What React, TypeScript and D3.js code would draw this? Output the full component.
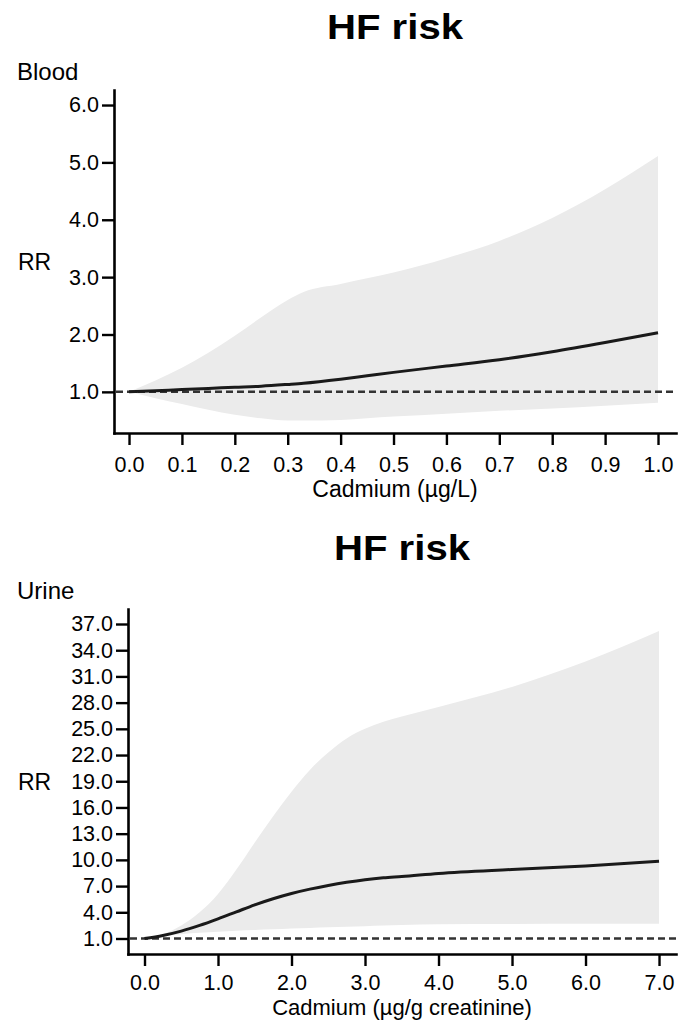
import * as d3 from 'd3';
import React, { useEffect, useRef } from 'react';

// Blood cadmium (µg/L) vs RR
const bloodX = [0, 0.05, 0.1, 0.15, 0.2, 0.25, 0.3, 0.33, 0.4, 0.45, 0.5, 0.6, 0.7, 0.8, 0.9, 1.0];
const bloodFit = [1.0, 1.02, 1.04, 1.06, 1.08, 1.1, 1.13, 1.15, 1.22, 1.28, 1.34, 1.45, 1.56, 1.7, 1.86, 2.03];
const bloodLow = [1.0, 0.89, 0.79, 0.69, 0.6, 0.54, 0.5, 0.5, 0.51, 0.54, 0.57, 0.62, 0.67, 0.71, 0.76, 0.81];
const bloodHigh = [1.0, 1.2, 1.42, 1.68, 1.98, 2.3, 2.6, 2.74, 2.88, 2.98, 3.08, 3.33, 3.63, 4.03, 4.53, 5.11];
const bloodTicksX = [0, 0.1, 0.2, 0.3, 0.4, 0.5, 0.6, 0.7, 0.8, 0.9, 1.0];
const bloodTicksY = [1, 2, 3, 4, 5, 6];

// Urine cadmium (µg/g creatinine) vs RR
const urineX = [0, 0.25, 0.5, 0.75, 1, 1.25, 1.5, 1.75, 2, 2.25, 2.5, 2.75, 3, 3.25, 3.5, 4, 5, 6, 7];
const urineFit = [1.0, 1.35, 1.85, 2.5, 3.25, 4.05, 4.85, 5.55, 6.15, 6.65, 7.07, 7.43, 7.73, 7.95, 8.1, 8.45, 8.9, 9.3, 9.85];
const urineLow = [1.0, 1.3, 1.5, 1.65, 1.76, 1.88, 1.97, 2.05, 2.14, 2.21, 2.28, 2.34, 2.4, 2.48, 2.55, 2.62, 2.66, 2.68, 2.7];
const urineHigh = [1.0, 1.5, 2.5, 4.0, 6.1, 8.9, 12.0, 15.0, 17.8, 20.3, 22.3, 23.9, 25.0, 25.8, 26.4, 27.5, 29.8, 32.7, 36.2];
const urineTicksX = [0, 1, 2, 3, 4, 5, 6, 7];
const urineTicksY = [1, 4, 7, 10, 13, 16, 19, 22, 25, 28, 31, 34, 37];

const FONT = '"Liberation Sans", Arial, sans-serif';

const panels = [
  {
    title: 'HF risk', label: 'Blood', xTitle: 'Cadmium (µg/L)',
    xs: bloodX, fit: bloodFit, low: bloodLow, high: bloodHigh,
    ticksX: bloodTicksX, ticksY: bloodTicksY,
    xDomain: [-0.0284, 1.034], yDomain: [0.283, 6.262],
    left: 114, right: 676, top: 90, bottom: 433, titleY: 39,
    xPad: 12, xTitleGap: 64, xTitleSize: 23,
  },
  {
    title: 'HF risk', label: 'Urine', xTitle: 'Cadmium (µg/g creatinine)',
    xs: urineX, fit: urineFit, low: urineLow, high: urineHigh,
    ticksX: urineTicksX, ticksY: urineTicksY,
    xDomain: [-0.2245, 7.231], yDomain: [-0.774, 38.717],
    left: 128, right: 676, top: 609, bottom: 954, titleY: 560,
    xPad: 9, xTitleGap: 61, xTitleSize: 22,
  },
];

const App = () => {
  const ref = useRef(null);

  useEffect(() => {
    const svg = d3.select(ref.current);
    svg.selectAll('*').remove();

    panels.forEach(p => {
      const x = d3.scaleLinear().domain(p.xDomain).range([p.left, p.right]);
      const y = d3.scaleLinear().domain(p.yDomain).range([p.bottom, p.top]);
      const g = svg.append('g');
      const pts = p.xs.map((v, i) => ({ x: v, fit: p.fit[i], lo: p.low[i], hi: p.high[i] }));

      // confidence band
      g.append('path')
        .attr('fill', '#ebebeb')
        .attr('d', d3.area<any>()
          .x(d => x(d.x))
          .y0(d => y(d.lo))
          .y1(d => y(d.hi))
          .curve(d3.curveMonotoneX)(pts));

      // reference line RR = 1
      g.append('line')
        .attr('x1', x(p.xDomain[0]) + 2).attr('x2', x(p.xDomain[1]))
        .attr('y1', y(1)).attr('y2', y(1))
        .attr('stroke', '#333').attr('stroke-width', 2.5)
        .attr('stroke-dasharray', '7,4');

      // fitted curve
      g.append('path')
        .attr('fill', 'none')
        .attr('stroke', '#1a1a1a')
        .attr('stroke-width', 3)
        .attr('d', d3.line<any>()
          .x(d => x(d.x))
          .y(d => y(d.fit))
          .curve(d3.curveMonotoneX)(pts));

      const yAxis = g.append('g')
        .attr('transform', `translate(${p.left},0)`)
        .call(d3.axisLeft(y).tickValues(p.ticksY).tickFormat(d3.format('.1f')).tickSize(12).tickSizeOuter(0).tickPadding(3));
      const xAxis = g.append('g')
        .attr('transform', `translate(0,${p.bottom})`)
        .call(d3.axisBottom(x).tickValues(p.ticksX).tickFormat(d3.format('.1f')).tickSize(12).tickSizeOuter(0).tickPadding(p.xPad));

      [yAxis, xAxis].forEach(a => {
        a.select('.domain').attr('stroke', '#000').attr('stroke-width', 2.6).attr('stroke-linecap', 'square');
        a.selectAll('.tick line').attr('stroke', '#000').attr('stroke-width', 2.4);
        a.selectAll('.tick text').attr('fill', '#000').style('font-family', FONT).style('font-size', '21.5px');
      });

      const cx = (p.left + p.right) / 2;
      g.append('text')
        .attr('x', cx).attr('y', p.titleY)
        .attr('text-anchor', 'middle')
        .attr('textLength', 136).attr('lengthAdjust', 'spacingAndGlyphs')
        .style('font-family', FONT).style('font-size', '35px').style('font-weight', 'bold')
        .text(p.title);
      g.append('text')
        .attr('x', 17).attr('y', p.top - 10)
        .style('font-family', FONT).style('font-size', '24px')
        .text(p.label);
      g.append('text')
        .attr('x', 18).attr('y', (p.top + p.bottom) / 2 + 8)
        .style('font-family', FONT).style('font-size', '23px')
        .text('RR');
      g.append('text')
        .attr('x', cx).attr('y', p.bottom + p.xTitleGap)
        .attr('text-anchor', 'middle')
        .style('font-family', FONT).style('font-size', `${p.xTitleSize}px`)
        .text(p.xTitle);
    });
  }, []);

  return (
    <div style={{ position: 'absolute', left: 0, top: 0 }}>
      <svg ref={ref} width={689} height={1020} style={{ display: 'block', background: '#fff' }}></svg>
    </div>
  );
};

export default App;
